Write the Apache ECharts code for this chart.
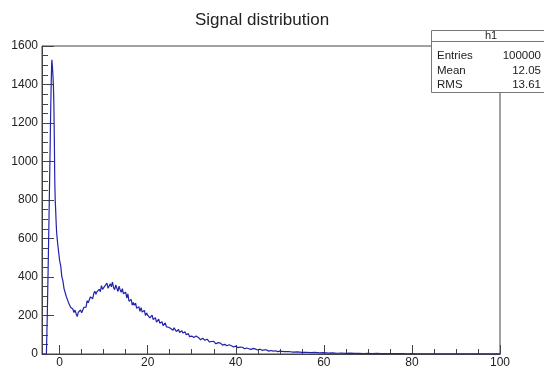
<!DOCTYPE html>
<html>
<head>
<meta charset="utf-8">
<script src="https://cdn.jsdelivr.net/npm/echarts@6/dist/echarts.min.js"></script>
<style>
html,body{margin:0;padding:0;background:#fff;}
#chart{width:544px;height:369px;}
</style>
</head>
<body>
<div id="chart"></div>
<script>
// ---- data ----
const binX = [
 -4,-3.5,-3.2,-3.0,-2.8,-2.6,-2.4,-2.2,-2.0,-1.9,-1.8,-1.75,-1.7,-1.6,-1.5,-1.4,-1.3,-1.2,-1.1,-1.0,-0.9,-0.8,-0.7,-0.6,-0.4,-0.2,
 0,0.25,0.5,0.75,1.0,1.25,1.5,1.75,2.0,2.25,2.5,2.75,
 3.0,3.25,3.5,3.75,4.0,4.25,4.5,4.75,5.0,5.25,5.5,5.75,6.0,6.25,6.5,6.75,7.0,7.25,7.5,7.75,8.0,8.25,8.5,8.75,
 9.0,9.25,9.5,9.75,10,10.25,10.5,10.75,11,11.25,11.5,11.75,12,12.25,12.5,12.75,13,13.25,13.5,13.75,14,14.25,14.5,14.75,
 15,15.25,15.5,15.75,16,16.25,16.5,16.75,17,17.25,17.5,17.75,18,18.25,18.5,18.75,19,19.25,19.5,19.75,
 20,20.25,20.5,20.75,21,21.25,21.5,21.75,22,22.25,22.5,22.75,23,23.25,23.5,23.75,24,24.25,24.5,24.75,
 25,25.25,25.5,25.75,26,26.25,26.5,26.75,27,27.25,27.5,27.75,28,28.25,28.5,28.75,29,29.25,29.5,29.75,30,
 30.5,31,31.5,32,32.5,33,33.5,34,34.5,35,35.5,36,36.5,37,37.5,38,38.5,39,39.5,40,
 40.5,41,41.5,42,42.5,43,43.5,44,44.5,45,45.5,46,46.5,47,47.5,48,48.5,49,49.5,50,
 51,52,53,54,55,56,57,58,59,60,61,62,63,64,65,66,67,68,69,70,
 71,72,73,74,75,76,77,78,79,80,81,82,83,84,85,86,87,88,89,90,
 91,92,93,94,95,96,97,98,99,100
];
const binCounts = [
 0,0,0,0,200,450,720,1000,1300,1420,1510,1528,1520,1480,1440,1390,1290,1120,900,800,750,690,640,610,565,525,
 485,458,402,380,340,331,300,292,268,264,243,241,
 234,215,228,209,194,217,208,229,214,216,242,246,243,277,266,267,297,295,287,314,326,310,324,316,
 336,324,355,336,327,353,348,368,341,338,365,349,374,345,334,359,350,325,353,333,321,339,313,320,
 321,291,312,274,283,284,254,268,253,264,237,243,246,221,241,218,218,226,200,213,
 202,211,188,198,202,179,181,189,166,176,181,160,162,168,148,156,161,141,151,139,
 148,132,137,123,136,136,117,123,127,112,112,121,109,101,115,100,105,106,90,98,93,
 86,93,86,74,82,71,77,63,65,66,53,59,57,46,50,43,48,43,36,41,
 33,36,35,27,31,27,24,29,25,21,25,19,21,21,15,18,15,17,12.5,15,
 12,13,10,11,8,9,7,8,6,7,5,6,4,5,3.5,4.2,3,3.6,2.6,3.2,
 2.2,2.8,2,2.4,1.7,2.1,1.5,1.9,1.4,1.7,1.4,1.2,1.3,1.1,1.2,1.0,1.1,0.9,1.0,0.8,
 0.9,0.7,0.8,0.7,0.6,0.7,0.5,0.6,0.4,0.5
];
const xMajorTicks = [0, 20, 40, 60, 80, 100];
const xMinorTicks = [5, 10, 15, 25, 30, 35, 45, 50, 55, 65, 70, 75, 85, 90, 95];
const yTicks = [0, 200, 400, 600, 800, 1000, 1200, 1400, 1600];
const titleText = 'Signal distribution';
const statsName = 'h1';
const statsLabels = ['Entries', 'Mean', 'RMS'];
const statsValues = ['100000', '12.05', '13.61'];

// ---- chart ----
const chart = echarts.init(document.getElementById('chart'), null, {renderer: 'canvas'});
const FONT = 'Liberation Sans, Arial, Helvetica, sans-serif';
const seriesData = binX.map((x, i) => [x, binCounts[i]]);

const statsGraphics = [
  {type: 'rect', z: 100, shape: {x: 431.5, y: 30.5, width: 130, height: 62}, style: {fill: '#fff', stroke: '#777', lineWidth: 1}},
  {type: 'line', z: 101, shape: {x1: 431.5, y1: 41.5, x2: 544, y2: 41.5}, style: {stroke: '#777', lineWidth: 1}},
  {type: 'text', z: 102, x: 491, y: 36, style: {text: statsName, font: '11px ' + FONT, fill: '#222', align: 'center', verticalAlign: 'middle'}}
];
statsLabels.forEach((lab, i) => {
  const y = [56, 71, 85][i];
  statsGraphics.push({type: 'text', z: 102, x: 437, y: y, style: {text: lab, font: '11.5px ' + FONT, fill: '#222', align: 'left', verticalAlign: 'middle'}});
  statsGraphics.push({type: 'text', z: 102, x: 541, y: y, style: {text: statsValues[i], font: '11.5px ' + FONT, fill: '#222', align: 'right', verticalAlign: 'middle'}});
});

const option = {
  animation: false,
  backgroundColor: '#fff',
  title: {
    text: titleText,
    left: 190, top: 7,
    textStyle: {fontFamily: FONT, fontSize: 17, fontWeight: 'normal', color: '#222'}
  },
  grid: {left: 42, right: 44, top: 46, bottom: 14, show: true, borderColor: '#444', borderWidth: 1, backgroundColor: '#fff'},
  xAxis: [
    {
      type: 'value', min: -4, max: 100,
      axisLine: {show: true, onZero: false, lineStyle: {color: '#444', width: 1}},
      axisTick: {show: true, inside: true, length: 9, customValues: xMajorTicks, lineStyle: {color: '#444'}},
      axisLabel: {customValues: xMajorTicks, fontFamily: FONT, fontSize: 12, color: '#222', margin: 3},
      splitLine: {show: false}
    },
    {
      type: 'value', min: -4, max: 100, position: 'bottom',
      axisLine: {show: false},
      axisTick: {show: true, inside: true, length: 5, customValues: xMinorTicks, lineStyle: {color: '#444'}},
      axisLabel: {show: false},
      splitLine: {show: false}
    }
  ],
  yAxis: {
    type: 'value', min: yTicks[0], max: yTicks[yTicks.length - 1], interval: 200,
    axisLine: {show: true, onZero: false, lineStyle: {color: '#444', width: 1}},
    axisTick: {show: true, inside: true, length: 12, lineStyle: {color: '#444'}},
    minorTick: {show: true, splitNumber: 4, length: 6, lineStyle: {color: '#444'}},
    axisLabel: {fontFamily: FONT, fontSize: 12, color: '#222', margin: 4, formatter: (v) => String(v)},
    splitLine: {show: false}
  },
  series: [{
    type: 'line',
    xAxisIndex: 0,
    data: seriesData,
    showSymbol: false,
    symbol: 'none',
    clip: true,
    lineStyle: {color: '#2222aa', width: 1.2},
    z: 5
  }],
  graphic: statsGraphics
};
chart.setOption(option);
</script>
</body>
</html>
